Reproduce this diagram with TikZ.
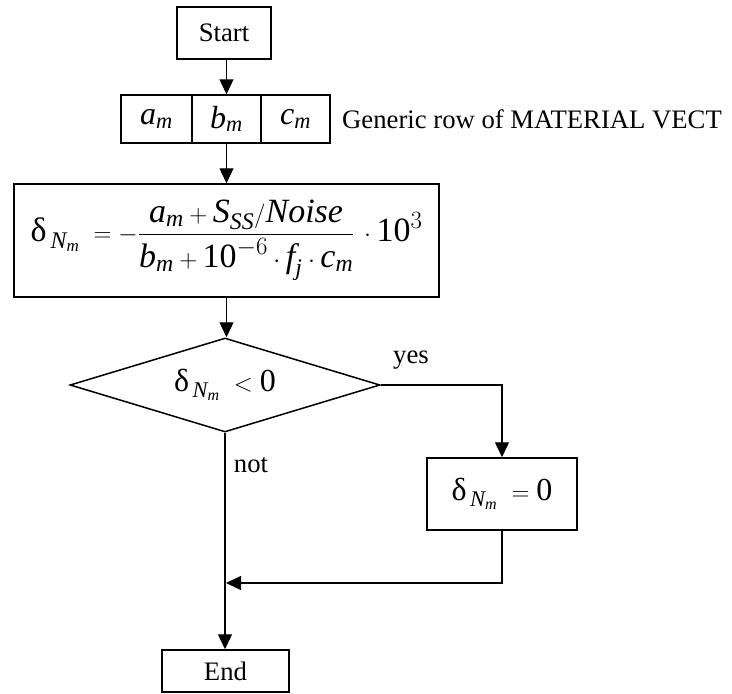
\documentclass[tikz,border=0pt]{standalone}
\usepackage{amsmath}
\usepackage{fontspec}
\setmainfont{Liberation Serif}
\usetikzlibrary{shapes.geometric,arrows.meta}
\newcommand\mi[1]{\text{\itshape #1}}
\newcommand\dN{\text{δ}_{\,\mi{N}_{\mi{m}}}}
\begin{document}
\begin{tikzpicture}[x=1pt,y=-1pt,
  box/.style={draw,line width=1.5pt,inner sep=0pt},
  arr/.style={line width=1.3pt,-{Triangle[length=15pt,width=14pt]}},
  txt/.style={font=\fontsize{26.7}{32}\selectfont},
  mth/.style={font=\fontsize{32}{38}\selectfont},
  fml/.style={font=\fontsize{34}{40}\selectfont}]
\useasboundingbox (0,0) rectangle (732,694);
\node[box,txt,minimum width=94pt,minimum height=52pt] (start) at (224,33) {Start};
\node[box,mth,minimum width=71pt,minimum height=48pt] (ca) at (156.5,119) {$\mi{a}_{\mi{m}}$};
\node[box,mth,minimum width=69pt,minimum height=48pt] (cb) at (226.5,119) {$\mi{b}_{\mi{m}}$};
\node[box,mth,minimum width=69pt,minimum height=48pt] (cc) at (295.5,119) {$\mi{c}_{\mi{m}}$};
\node[txt,anchor=west,inner sep=0pt] (lbl) at (342,119) {Generic row of MATERIAL VECT};
\node[box,fml,minimum width=425pt,minimum height=113pt] (f) at (226.5,240.5)
  {$\displaystyle \dN\; = -\frac{\mi{a}_{\mi{m}} + \mi{S}_{\mi{SS}}/\mi{Noise}\rule[-9pt]{0pt}{1pt}}{\mi{b}_{\mi{m}} + \text{10}^{-6}\cdot \mi{f}_{\mi{j}}\cdot\mi{c}_{\mi{m}}}\,\cdot\text{10}^{3}$};
\node[draw,diamond,line width=1.5pt,aspect=3.3,minimum width=310pt,minimum height=94pt,inner sep=0pt,mth] (d) at (225,385) {$\dN\; < \text{0}$};
\node[box,mth,minimum width=150pt,minimum height=72pt] (dz) at (502,494) {$\dN\; = \text{0}$};
\node[box,txt,minimum width=127pt,minimum height=42pt] (end) at (225.5,671) {End};
\node[txt] (yes) at (411,360) {yes};
\node[txt] (no) at (251,465) {not};
\coordinate (m) at (226,583);
\draw[arr] (start.south -| cb.north) -- (cb.north);
\draw[arr] (cb.south) -- (f.north);
\draw[arr] (f.south) -- (f.south |- d.north);
\draw[arr] (d.east) -| (dz.north);
\draw[arr] (dz.south) |- (m);
\draw[arr] (d.south) -- (d.south |- end.north);
\end{tikzpicture}
\end{document}
